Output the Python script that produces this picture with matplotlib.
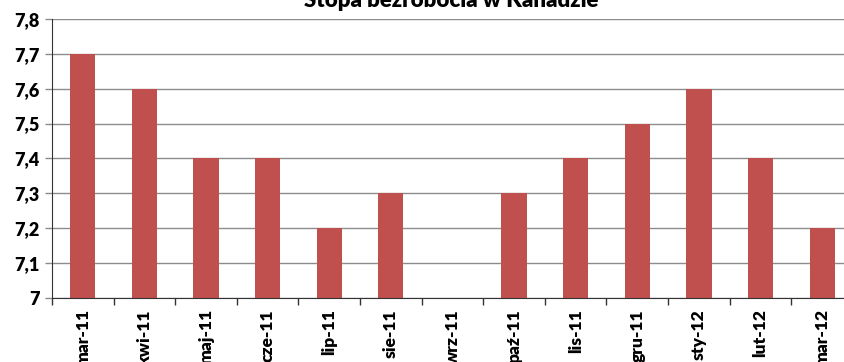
import matplotlib.pyplot as plt
import numpy as np
from matplotlib.ticker import FixedLocator, FuncFormatter

months = ['mar-11', 'kwi-11', 'maj-11', 'cze-11', 'lip-11', 'sie-11', 'wrz-11',
          'paź-11', 'lis-11', 'gru-11', 'sty-12', 'lut-12', 'mar-12']
rate = [7.7, 7.6, 7.4, 7.4, 7.2, 7.3, 7.0, 7.3, 7.4, 7.5, 7.6, 7.4, 7.2]
y_ticks = [7.0, 7.1, 7.2, 7.3, 7.4, 7.5, 7.6, 7.7, 7.8]

BAR_COLOR = '#C0504D'

plt.rcParams['font.family'] = ['Lato', 'DejaVu Sans']

fig = plt.figure(figsize=(8.44, 3.62), dpi=100)
ax = fig.add_axes([0.0616, 0.177, 0.949, 0.7707])

x = np.arange(len(months))
ax.bar(x, [r - 7.0 for r in rate], bottom=7.0, width=0.41, color=BAR_COLOR, zorder=3)

ax.set_xlim(-0.5, len(months) - 0.5)
ax.set_ylim(7.0, 7.8)
ax.set_yticks(y_ticks)
ax.yaxis.set_major_formatter(FuncFormatter(lambda v, p: ('%.1f' % v).replace('.', ',') if v > 7.01 else '7'))
ax.yaxis.grid(True, color='#8c8c8c', linewidth=1.0, zorder=0)

# ticks between categories, labels centred under bars
ax.xaxis.set_major_locator(FixedLocator(np.arange(-0.5, len(months), 1.0)))
ax.xaxis.set_major_formatter(FuncFormatter(lambda v, p: ''))
ax.xaxis.set_minor_locator(FixedLocator(x))
ax.set_xticklabels(months, minor=True, rotation=90, fontsize=12.5, fontweight='heavy')
ax.tick_params(axis='x', which='major', length=5, width=1, color='#333333', direction='out')
ax.tick_params(axis='x', which='minor', length=0, pad=8)
ax.tick_params(axis='y', length=5, width=1, color='#8c8c8c', labelsize=13, pad=4)
for lbl in ax.get_yticklabels():
    lbl.set_fontweight('heavy')

for side in ['top', 'right']:
    ax.spines[side].set_visible(False)
ax.spines['left'].set_color('#333333')
ax.spines['bottom'].set_color('#333333')
ax.spines['bottom'].set_zorder(4)

fig.text(0.535, 0.982, 'Stopa bezrobocia w Kanadzie', ha='center', va='baseline',
         fontsize=16, fontweight='heavy')

fig.savefig('out.png', dpi=100)
